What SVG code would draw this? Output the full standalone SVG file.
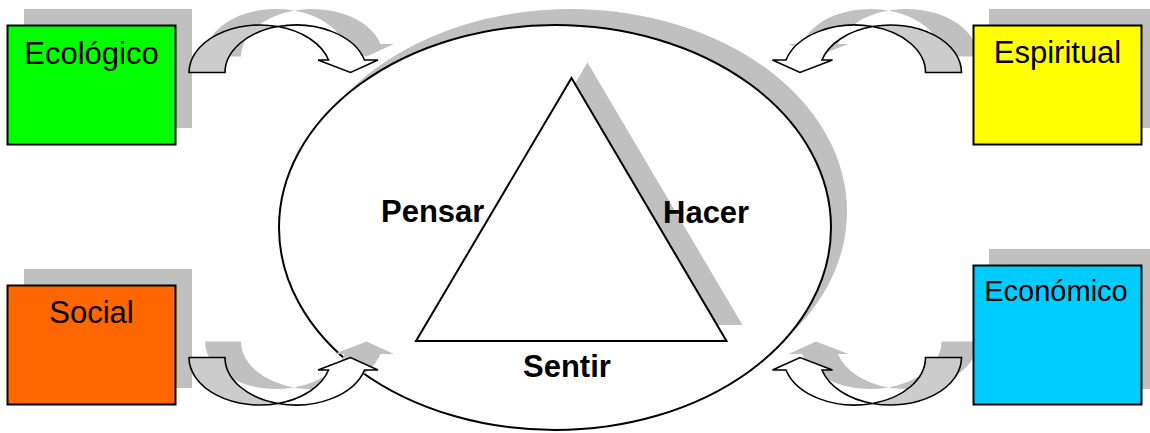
<svg xmlns="http://www.w3.org/2000/svg" xmlns:xlink="http://www.w3.org/1999/xlink" width="1150" height="433" viewBox="0 0 1150 433">
  <style>
    .sh { fill: #c0c0c0; stroke: none; }
    .ln { stroke: #000; stroke-width: 2; }
    .tail { fill: #cccccc; stroke: #000; stroke-width: 1.6; stroke-linejoin: miter; }
    .head { fill: #ffffff; stroke: #000; stroke-width: 1.6; stroke-linejoin: miter; }
    .box { stroke: #000; stroke-width: 2; }
    .bt { font-family: "Liberation Sans", Arial, sans-serif; font-size: 31px; fill: #000; text-anchor: middle; }
    .lb { font-family: "Liberation Sans", Arial, sans-serif; font-size: 31px; font-weight: bold; fill: #000; }
  </style>
  <defs>
    <path id="tailP" d="M189,72.5 A71,47.5 0 0 1 278,26.55 A71,47.5 0 0 0 225,72.5 Z"/>
    <path id="headP" d="M278,26.55 A71,47.5 0 0 1 364.5,60 L378,60 L350.5,72.5 L318,60 L328.5,60 A71,47.5 0 0 0 278,26.55 Z"/>
    <g id="arrowShadow" class="sh">
      <use xlink:href="#tailP" href="#tailP"/>
      <use xlink:href="#headP" href="#headP"/>
    </g>
    <g id="arrowBody">
      <use xlink:href="#tailP" href="#tailP" class="tail"/>
      <use xlink:href="#headP" href="#headP" class="head"/>
    </g>
  </defs>
  <rect width="1150" height="433" fill="#ffffff"/>

  <g id="center">
    <ellipse class="sh" cx="571" cy="211.5" rx="276" ry="202.5"/>
    <ellipse class="ln" cx="555" cy="227.5" rx="276" ry="202.5" fill="#ffffff"/>
    <polygon class="sh" points="587.5,62.5 742.5,325 431.5,325"/>
    <polygon class="ln" points="571.5,78 726.5,341 416,341" fill="#ffffff" stroke-linejoin="miter"/>
  </g>

  <g id="labels">
    <text class="lb" x="381" y="222">Pensar</text>
    <text class="lb" x="663" y="223">Hacer</text>
    <text class="lb" x="523" y="377">Sentir</text>
  </g>

  <g id="box-shadows">
    <rect class="sh" x="24" y="9" width="168" height="119"/>
    <rect class="sh" x="989" y="9" width="168" height="119"/>
    <rect class="sh" x="24" y="269" width="168" height="119"/>
    <rect class="sh" x="989" y="249" width="168" height="140"/>
  </g>

  <g id="connectors">
    <g id="arrow-ecologico">
      <use xlink:href="#arrowShadow" href="#arrowShadow" transform="translate(16,-16)"/>
      <use xlink:href="#arrowBody" href="#arrowBody"/>
    </g>
    <g id="arrow-espiritual" transform="translate(1150.5,0) scale(-1,1)">
      <use xlink:href="#arrowShadow" href="#arrowShadow" transform="translate(-16,-16)"/>
      <use xlink:href="#arrowBody" href="#arrowBody"/>
    </g>
    <g id="arrow-social" transform="translate(0,430) scale(1,-1)">
      <use xlink:href="#arrowShadow" href="#arrowShadow" transform="translate(16,16)"/>
      <use xlink:href="#arrowBody" href="#arrowBody"/>
    </g>
    <g id="arrow-economico" transform="translate(1150.5,430) scale(-1,-1)">
      <use xlink:href="#arrowShadow" href="#arrowShadow" transform="translate(-16,16)"/>
      <use xlink:href="#arrowBody" href="#arrowBody"/>
    </g>
  </g>

  <g id="ecologico">
    <rect class="box" x="7.5" y="25.5" width="168" height="119" fill="#00ff00"/>
    <text class="bt" x="91.5" y="64">Ecológico</text>
  </g>
  <g id="espiritual">
    <rect class="box" x="973.5" y="25.5" width="168" height="119" fill="#ffff00"/>
    <text class="bt" x="1057.5" y="63">Espiritual</text>
  </g>
  <g id="social">
    <rect class="box" x="7.5" y="285.5" width="168" height="119" fill="#ff6600"/>
    <text class="bt" x="91.5" y="323">Social</text>
  </g>
  <g id="economico">
    <rect class="box" x="973.5" y="265.5" width="168" height="139" fill="#00ccff"/>
    <text class="bt" x="1056" y="301" style="font-size:29px">Económico</text>
  </g>
</svg>
